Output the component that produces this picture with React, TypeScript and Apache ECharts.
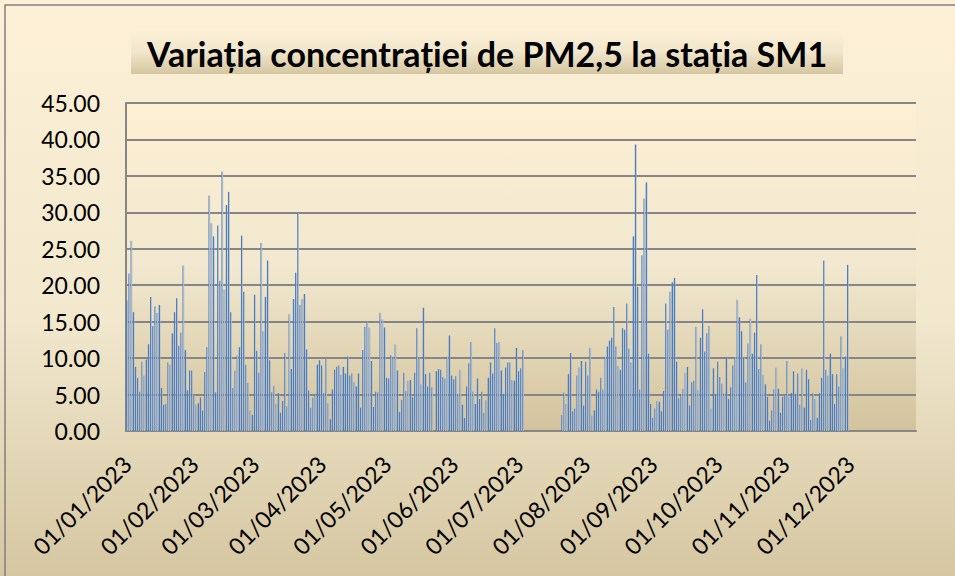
import React, { useEffect, useRef } from 'react';
import * as echarts from 'echarts';

const jan = [17.9, 21.6, 26.1, 16.3, 8.8, 7.3, 5.4, 9.5, 7.6, 9.8, 11.9, 18.4, 14.4, 17.1, 16.2, 17.3, 5.9, 3.6, 3.7, 9.4, 9.1, 13.4, 16.3, 18.2, 11.7, 13.5, 22.7, 11.1, 5.6, 8.3, 8.3];
const feb = [4.9, 3.6, 3.8, 4.6, 2.8, 8.1, 11.5, 32.3, 28.5, 26.7, 5.3, 28.2, 20.6, 35.6, 19.4, 31.0, 32.8, 16.3, 5.9, 8.3, 10.4, 11.5, 26.8, 19.1, 9.1, 6.6, 2.8, 2.2];
const mar = [18.7, 11.0, 8.0, 25.8, 13.7, 18.4, 23.4, 9.7, 5.3, 6.2, 3.7, 5.2, 2.5, 4.1, 10.7, 3.4, 16.0, 8.5, 18.1, 21.7, 29.9, 17.3, 18.1, 18.8, 11.2, 5.6, 3.2, 4.6, 4.9, 9.1, 9.7];
const apr = [9.0, 5.2, 9.9, 3.8, 1.6, 5.7, 8.4, 8.8, 9.0, 7.7, 8.8, 7.9, 10.2, 7.6, 7.9, 6.7, 6.1, 7.9, 3.2, 11.1, 14.3, 14.9, 14.2, 9.6, 3.3, 5.4, 5.3, 16.2, 15.3, 14.2];
const may = [7.3, 7.2, 10.4, 10.0, 11.9, 8.3, 2.6, 4.3, 8.0, 5.5, 6.9, 7.0, 4.6, 8.0, 14.1, 10.0, 6.4, 16.9, 7.8, 6.1, 8.0, 6.0, null, 8.2, 8.5, 8.4, 7.4, 7.2, 10.2, 13.1, 7.6];
const jun = [7.1, 7.5, 5.1, 8.4, 3.6, 1.8, 6.1, 9.3, 12.2, 5.4, 3.7, 7.2, 4.4, 5.4, 2.5, 4.2, 7.3, 9.4, 7.9, 14.1, 12.1, 12.2, 8.3, 5.1, 8.7, 9.4, 9.4, 7.0, 6.9, 11.4];
const jul = [8.2, 8.6, 11.1, null, null, null, null, null, null, null, null, null, null, null, null, null, null, null, null, null, 2.2, 5.3, 3.7, 7.8, 10.7, 2.7, 3.1, 7.6, 8.7, 9.6, 3.5];
const aug = [9.5, 7.6, 11.4, 2.1, 2.8, 5.7, 5.4, 7.3, 5.7, 10.2, 11.6, 12.4, 12.8, 17.0, 11.6, 8.9, 8.4, 14.1, 13.9, 17.5, 11.3, 9.4, 26.7, 39.3, 19.8, 5.7, 24.1, 31.9, 34.1, 10.6, 3.7];
const sep = [1.8, 3.1, 4.1, 4.0, 2.7, 5.5, 17.5, 13.9, 19.1, 20.4, 21.0, 9.5, 4.5, 5.1, 5.8, 8.0, 8.8, 3.5, 6.7, 6.9, 14.3, 5.6, 12.8, 16.7, 10.9, 13.4, 14.4, 3.1, 8.6, 5.1];
const oct = [9.5, 7.4, 6.5, 5.2, 10.1, 4.4, 6.0, 9.0, 10.1, 18.0, 15.6, 13.7, 10.1, 6.7, 12.0, 15.4, 10.6, 13.5, 21.4, 8.5, 11.9, 7.7, 6.4, 4.7, 1.4, 2.8, 5.7, 8.7, 5.8, 2.5, 4.7];
const nov = [4.9, 9.6, 4.7, 5.2, 8.2, 5.1, 7.9, 3.6, 8.6, 3.2, 8.4, 7.1, 1.5, 5.2, 4.4, 1.8, 5.2, 7.3, 23.4, 8.4, 7.6, 10.6, 7.8, 3.7, 7.8, 6.1, 13.0, 8.6, 10.2, 22.8];
const dec: (number | null)[] = new Array(31).fill(null);

const months = [jan, feb, mar, apr, may, jun, jul, aug, sep, oct, nov, dec];
const monthLengths = [31, 28, 31, 30, 31, 30, 31, 31, 30, 31, 30, 31];
const titleText = 'Variația concentrației de PM2,5 la stația SM1';

const pad = (n: number) => (n < 10 ? '0' + n : '' + n);
const categories: string[] = [];
monthLengths.forEach((len, m) => {
  for (let d = 1; d <= len; d++) categories.push(`${pad(d)}/${pad(m + 1)}/2023`);
});
const values = months.flat();

export default function App() {
  const ref = useRef<HTMLDivElement>(null);
  useEffect(() => {
    document.body.style.margin = '0';
    const chart = echarts.init(ref.current!, null, { renderer: 'svg' });
    const font = 'Lato';
    chart.setOption({
      animation: false,
      backgroundColor: {
        type: 'linear', x: 0, y: 0, x2: 0, y2: 1,
        colorStops: [
          { offset: 0, color: '#fdf0d6' },
          { offset: 0.55, color: '#f1e8ce' },
          { offset: 1, color: '#d6c7a2' },
        ],
      },
      graphic: [
        {
          type: 'rect', shape: { x: 5, y: 5, width: 960, height: 590 },
          style: { fill: 'none', stroke: '#808080', lineWidth: 1.5 }, silent: true,
        },
        {
          type: 'rect', shape: { x: 131, y: 29, width: 712, height: 45 },
          style: {
            fill: {
              type: 'linear', x: 0, y: 0, x2: 0, y2: 1,
              colorStops: [
                { offset: 0, color: '#fdf0d6' },
                { offset: 0.5, color: '#f1e7cd' },
                { offset: 1, color: '#d5c6a1' },
              ],
            },
          },
          silent: true,
        },
        {
          type: 'text', x: 487, y: 53,
          style: {
            text: titleText, fontFamily: font, fontWeight: 'bold', fontSize: 34,
            fill: '#000', align: 'center', verticalAlign: 'middle',
          },
          silent: true,
        },
      ],
      grid: {
        left: 126, right: 39, top: 103, bottom: 145,
        show: true, borderWidth: 0,
        backgroundColor: {
          type: 'linear', x: 0, y: 0, x2: 0, y2: 1,
          colorStops: [
            { offset: 0, color: '#fdefd2' },
            { offset: 0.5, color: '#f1e8cf' },
            { offset: 1, color: '#d3c39d' },
          ],
        },
      },
      xAxis: {
        type: 'category',
        data: categories,
        boundaryGap: true,
        axisLine: { show: true, lineStyle: { color: '#868686', width: 2 } },
        axisTick: { show: false },
        axisLabel: {
          interval: (_i: number, v: string) => v.startsWith('01/'),
          rotate: 45,
          margin: 29,
          fontFamily: font,
          fontSize: 23,
          color: '#000',
        },
      },
      yAxis: {
        type: 'value',
        min: 0, max: 45, interval: 5,
        axisLine: { show: true, lineStyle: { color: '#868686', width: 2 } },
        axisTick: { show: false },
        splitLine: { lineStyle: { color: '#868686', width: 2 } },
        axisLabel: {
          formatter: (v: number) => v.toFixed(2),
          margin: 26,
          fontFamily: font,
          fontSize: 23,
          color: '#000',
        },
      },
      series: [
        {
          type: 'bar',
          data: values,
          barWidth: 1.7,
          itemStyle: {
            color: {
              type: 'linear', x: 0, y: 0, x2: 1, y2: 0,
              colorStops: [
                { offset: 0, color: '#4a7cc0' },
                { offset: 0.5, color: '#4a7cc0' },
                { offset: 0.5, color: '#a9b8cb' },
                { offset: 1, color: '#a9b8cb' },
              ],
            },
          },
        },
      ],
    });
    return () => chart.dispose();
  }, []);
  return <div ref={ref} style={{ width: 955, height: 576 }} />;
}
